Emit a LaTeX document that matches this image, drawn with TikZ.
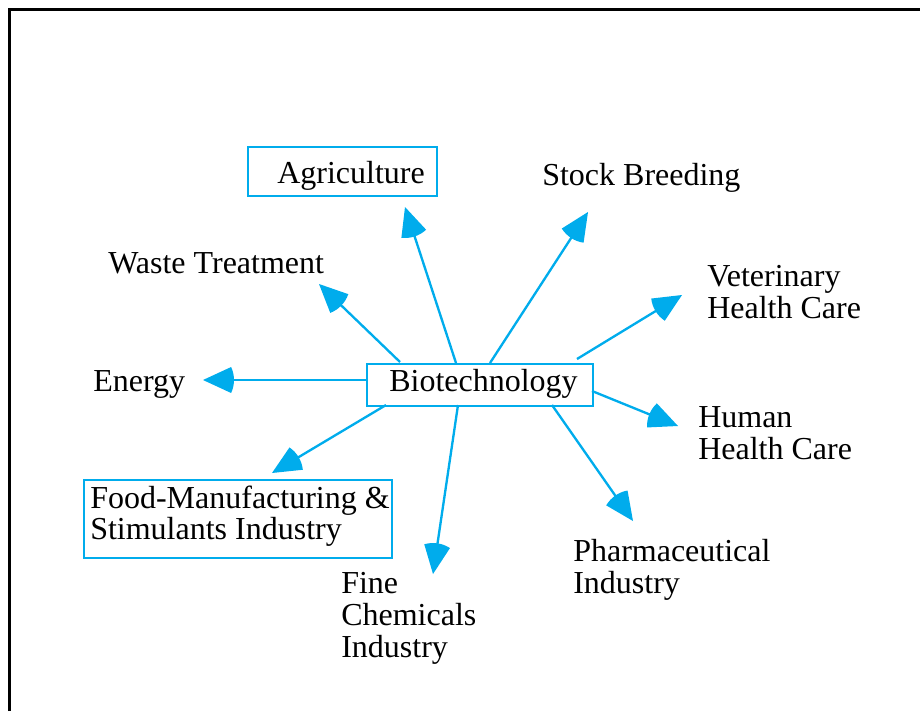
\documentclass[tikz,border=0pt]{standalone}
\usepackage{fontspec}
\setmainfont{Liberation Serif}
\usetikzlibrary{arrows.meta}
\definecolor{bluec}{RGB}{0,172,236}
\pgfdeclarearrow{
  name=Sector,
  setup code={
    \pgfarrowssettipend{0pt}
    \pgfarrowssetlineend{-18pt}
    \pgfarrowssetbackend{-23.25pt}
    \pgfarrowssetvisualbackend{-21pt}
  },
  drawing code={
    \pgfpathmoveto{\pgfpointorigin}
    \pgfpathlineto{\pgfpoint{-21.1pt}{9.75pt}}
    \pgfpatharc{155.2}{204.8}{23.25pt}
    \pgfpathclose
    \pgfusepathqfill
  }
}
\tikzset{
  lbl/.style={anchor=base west, inner sep=0pt, align=left, font=\fontsize{24}{24}\selectfont},
  boxed/.style={draw=bluec, line width=1.75pt, inner sep=0pt, anchor=north west},
  arr/.style={draw=bluec, fill=bluec, line width=1.75pt, -Sector},
}
\begin{document}
\begin{tikzpicture}[x=0.75pt,y=-0.75pt]
\useasboundingbox (0,0) rectangle (920,711);
\draw[line width=2.25pt] (9,711) -- (9,9) -- (920,9);

% boxes
\node[boxed, minimum width=169.5pt, minimum height=31.5pt] (bio) at (366,363) {};
\node[boxed, minimum width=141.75pt, minimum height=36.75pt] (agribox) at (247,146) {};
\node[boxed, minimum width=231pt, minimum height=58.5pt] (foodbox) at (83,479) {};

% labels (multi-line labels are placed at the baseline of their last line)
\node[lbl] (biot) at (389,391) {Biotechnology};
\node[lbl] (agri) at (277,183) {Agriculture};
\node[lbl] (stock) at (542,185) {Stock Breeding};
\node[lbl] (waste) at (108,273) {Waste Treatment};
\node[lbl] (vet) at (707,318) {Veterinary\\Health Care};
\node[lbl] (energy) at (93,391) {Energy};
\node[lbl] (human) at (698,459) {Human\\Health Care};
\node[lbl] (food) at (90,539) {Food-Manufacturing \&\\[-0.75pt]Stimulants Industry};
\node[lbl] (pharma) at (573,593) {Pharmaceutical\\Industry};
\node[lbl] (fine) at (341,657) {Fine\\Chemicals\\Industry};

% connector ends
\coordinate (sEn) at (366,380);   \coordinate (tEn) at (203,380);
\coordinate (sWa) at (400,362);   \coordinate (tWa) at (319,284);
\coordinate (sAg) at (456,363);   \coordinate (tAg) at (405,207);
\coordinate (sSt) at (490,363);   \coordinate (tSt) at (588,212);
\coordinate (sVe) at (577,359);   \coordinate (tVe) at (682,295);
\coordinate (sHu) at (592,391);   \coordinate (tHu) at (678,426);
\coordinate (sPh) at (552,405);   \coordinate (tPh) at (633,521);
\coordinate (sFi) at (458,405);   \coordinate (tFi) at (433,574);
\coordinate (sFo) at (386,405);   \coordinate (tFo) at (272,473);

\foreach \s/\t in {sEn/tEn,sWa/tWa,sAg/tAg,sSt/tSt,sVe/tVe,sHu/tHu,sPh/tPh,sFi/tFi,sFo/tFo}
  \draw[arr] (\s) -- (\t);
\end{tikzpicture}
\end{document}
